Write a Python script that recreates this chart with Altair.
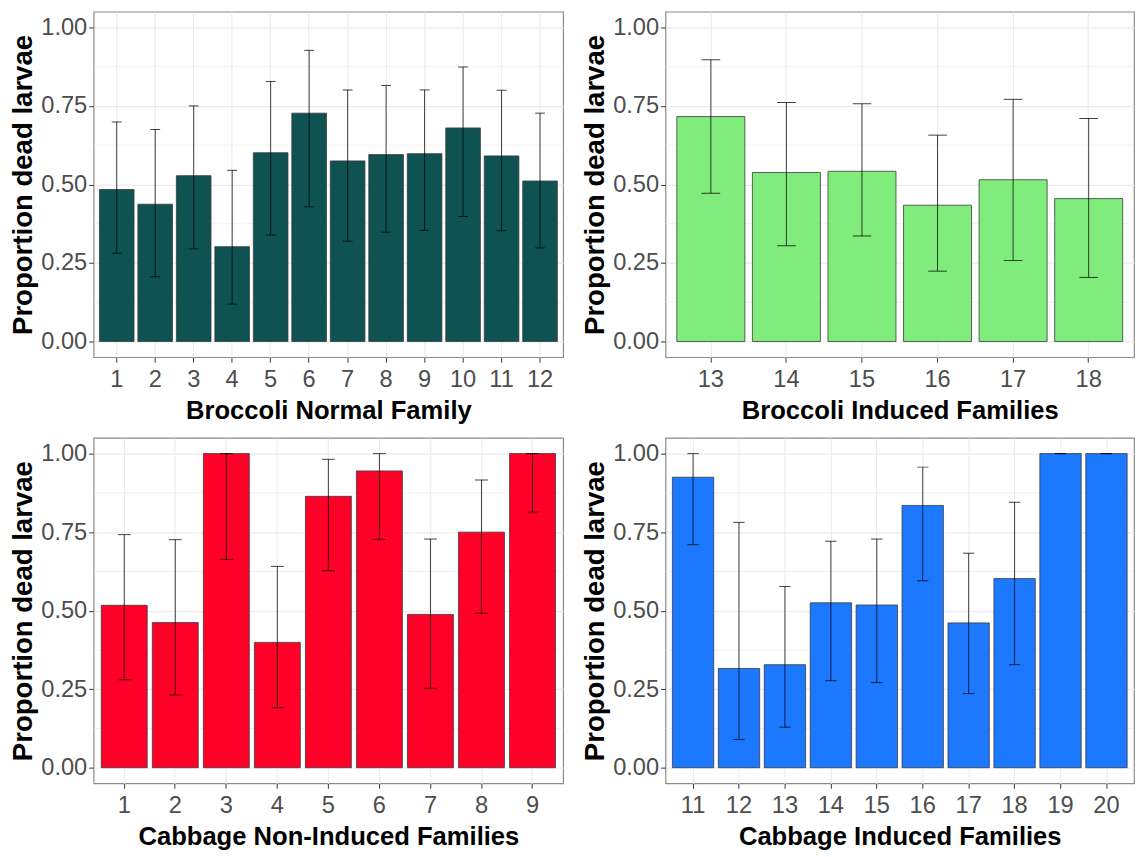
import altair as alt
import pandas as pd

FONT = "Liberation Sans, Arial, Helvetica, sans-serif"

# ---- Broccoli Normal Family ----
bn_fam = ["1", "2", "3", "4", "5", "6", "7", "8", "9", "10", "11", "12"]
bn_mean = [0.484, 0.437, 0.528, 0.302, 0.601, 0.727, 0.575, 0.595, 0.598, 0.680, 0.591, 0.511]
bn_hi = [0.699, 0.675, 0.750, 0.545, 0.828, 0.927, 0.801, 0.815, 0.801, 0.874, 0.800, 0.727]
bn_lo = [0.281, 0.206, 0.295, 0.119, 0.339, 0.429, 0.319, 0.348, 0.354, 0.398, 0.353, 0.298]

# ---- Broccoli Induced Families ----
bi_fam = ["13", "14", "15", "16", "17", "18"]
bi_mean = [0.716, 0.538, 0.542, 0.434, 0.515, 0.455]
bi_hi = [0.897, 0.761, 0.757, 0.657, 0.771, 0.710]
bi_lo = [0.472, 0.305, 0.336, 0.224, 0.258, 0.204]

# ---- Cabbage Non-Induced Families ----
cn_fam = ["1", "2", "3", "4", "5", "6", "7", "8", "9"]
cn_mean = [0.517, 0.462, 1.000, 0.399, 0.864, 0.945, 0.488, 0.750, 1.000]
cn_hi = [0.742, 0.726, 1.000, 0.641, 0.982, 1.000, 0.728, 0.916, 1.000]
cn_lo = [0.280, 0.232, 0.663, 0.191, 0.627, 0.727, 0.253, 0.492, 0.814]

# ---- Cabbage Induced Families ----
ci_fam = ["11", "12", "13", "14", "15", "16", "17", "18", "19", "20"]
ci_mean = [0.925, 0.316, 0.328, 0.525, 0.518, 0.835, 0.461, 0.602, 1.000, 1.000]
ci_hi = [1.000, 0.781, 0.577, 0.721, 0.728, 0.957, 0.683, 0.845, 1.000, 1.000]
ci_lo = [0.710, 0.090, 0.129, 0.277, 0.271, 0.595, 0.236, 0.328, 1.000, 1.000]

y_ticks = [0.0, 0.25, 0.5, 0.75, 1.0]
y_minor = [0.125, 0.375, 0.625, 0.875]
y_title = "Proportion dead larvae"


def ydef(field):
    return alt.Y(
        field,
        title=y_title,
        scale=alt.Scale(domain=[-0.05, 1.05], nice=False, zero=False),
        axis=alt.Axis(values=y_ticks, format=".2f"),
    )


def panel(fams, mean, lo, hi, color, title, w, h, cap):
    df = pd.DataFrame({"family": fams, "mean": mean, "lo": lo, "hi": hi})
    minor = pd.DataFrame({"m": y_minor})
    xdef = alt.X(
        "family:N",
        sort=fams,
        title=title,
        scale=alt.Scale(paddingInner=0.1, paddingOuter=0.15),
        axis=alt.Axis(labelAngle=0, bandPosition=0.5),
    )
    minor_rules = alt.Chart(minor).mark_rule(color="#EBEBEB", strokeWidth=0.7).encode(
        y=ydef("m:Q")
    )
    bars = alt.Chart(df).mark_bar(
        color=color, stroke="#3a3a3a", strokeWidth=0.8
    ).encode(x=xdef, y=ydef("mean:Q"))
    rules = alt.Chart(df).mark_rule(color="#000000", opacity=0.75, strokeWidth=1).encode(
        x=xdef, y=ydef("lo:Q"), y2="hi:Q"
    )
    cap_hi = alt.Chart(df).mark_tick(
        color="#000000", opacity=0.75, thickness=1, size=cap
    ).encode(x=xdef, y=ydef("hi:Q"))
    cap_lo = alt.Chart(df).mark_tick(
        color="#000000", opacity=0.75, thickness=1, size=cap
    ).encode(x=xdef, y=ydef("lo:Q"))
    return alt.layer(minor_rules, bars, rules, cap_hi, cap_lo).properties(width=w, height=h)


LW = 477
RW = 476
H = 351

tl = panel(bn_fam, bn_mean, bn_lo, bn_hi, "#0E5252", "Broccoli Normal Family", LW, H, 10)
tr = panel(bi_fam, bi_mean, bi_lo, bi_hi, "#80EC7C", "Broccoli Induced Families", RW, H, 19)
bl = panel(cn_fam, cn_mean, cn_lo, cn_hi, "#FF0028", "Cabbage Non-Induced Families", LW, H, 13)
br = panel(ci_fam, ci_mean, ci_lo, ci_hi, "#1C78FF", "Cabbage Induced Families", RW, H, 11.5)

chart = (
    alt.vconcat(
        alt.hconcat(tl, tr, spacing=17),
        alt.hconcat(bl, br, spacing=17),
        spacing=13,
    )
    .properties(padding={"left": 1, "top": -4, "right": 0, "bottom": 0}, background="white")
    .configure_view(stroke="#8a8a8a", strokeWidth=1.2)
    .configure_axis(
        grid=True,
        gridColor="#EBEBEB",
        gridWidth=1.2,
        domain=False,
        ticks=True,
        tickColor="#333333",
        tickSize=5,
        labelColor="#4D4D4D",
        labelFont=FONT,
        labelFontSize=24,
        titleFont=FONT,
        titleFontWeight="bold",
        titleColor="#000000",
    )
    .configure_axisX(titleFontSize=26, labelPadding=6, titlePadding=6)
    .configure_axisY(titleFontSize=28, labelPadding=2, titlePadding=3)
)

chart.save("out.html", embed_options={"renderer": "svg", "actions": False})
